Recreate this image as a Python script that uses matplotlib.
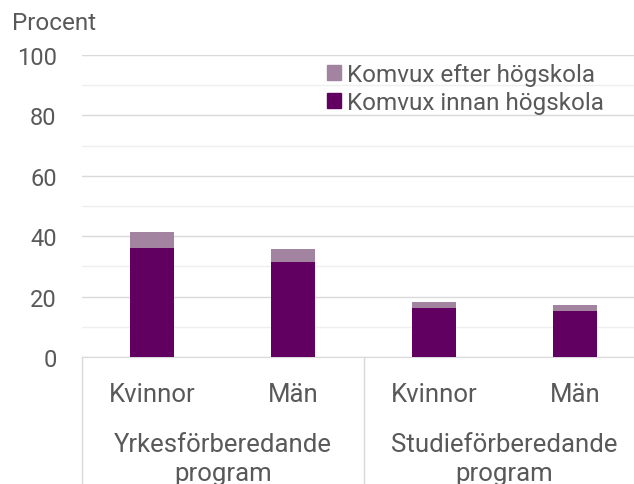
import matplotlib.pyplot as plt
from matplotlib.patches import Patch

plt.rcParams['font.family'] = ['Roboto', 'DejaVu Sans']

kategorier = ['Kvinnor', 'Män', 'Kvinnor', 'Män']
grupper = ['Yrkesförberedande\nprogram', 'Studieförberedande\nprogram']
innan = [36.0, 31.5, 16.2, 15.3]
efter = [5.5, 4.4, 2.1, 1.8]

mork = '#620062'
ljus = '#a284a0'
textfarg = '#595959'
fs = 17.5
fsx = 18.5

fig = plt.figure(figsize=(6.34, 4.85), dpi=100)
ax = fig.add_axes([81.7 / 634, 1 - 358 / 485, (645.5 - 81.7) / 634, 302 / 485])

x = range(len(kategorier))
ax.bar(x, innan, width=0.31, color=mork, zorder=3)
ax.bar(x, efter, width=0.31, bottom=innan, color=ljus, zorder=3)

ax.set_xlim(-0.5, 3.5)
ax.set_ylim(0, 100)
ax.set_yticks(range(0, 101, 20))
ax.set_yticks(range(10, 100, 20), minor=True)
ax.grid(axis='y', which='major', color='#d9d9d9', lw=1.0, zorder=0)
ax.grid(axis='y', which='minor', color='#efefef', lw=1.0, zorder=0)
for s in ['top', 'right', 'left']:
    ax.spines[s].set_visible(False)
ax.spines['bottom'].set_color('#d9d9d9')
ax.tick_params(axis='y', which='both', length=0, pad=18, labelsize=17, labelcolor=textfarg)
ax.set_xticks(list(x))
ax.set_xticklabels(kategorier)
ax.tick_params(axis='x', length=0, pad=18, labelsize=fsx, labelcolor=textfarg)

# avdelare mellan grupperna
for xv in [-0.5, 1.5]:
    ax.plot([xv, xv], [0, -0.43], transform=ax.get_xaxis_transform(),
            color='#d9d9d9', lw=1.0, clip_on=False)

for i, g in enumerate(grupper):
    ax.text(0.5 + 2 * i, -0.335, g, transform=ax.get_xaxis_transform(),
            ha='center', va='center', fontsize=fsx, color=textfarg, linespacing=1.25)

fig.text(12 / 634, 1 - 24 / 485, 'Procent', ha='left', va='center', fontsize=fs, color=textfarg)

handles = [Patch(color=ljus), Patch(color=mork)]
fig.legend(handles, ['Komvux efter högskola', 'Komvux innan högskola'],
           loc='upper left', bbox_to_anchor=(327 / 634, 1 - 64 / 485),
           frameon=False, fontsize=fs, handlelength=0.57, handleheight=0.57,
           handletextpad=0.25, labelspacing=0.22, borderpad=0, borderaxespad=0,
           labelcolor=textfarg)

fig.savefig('out.png', dpi=100)
